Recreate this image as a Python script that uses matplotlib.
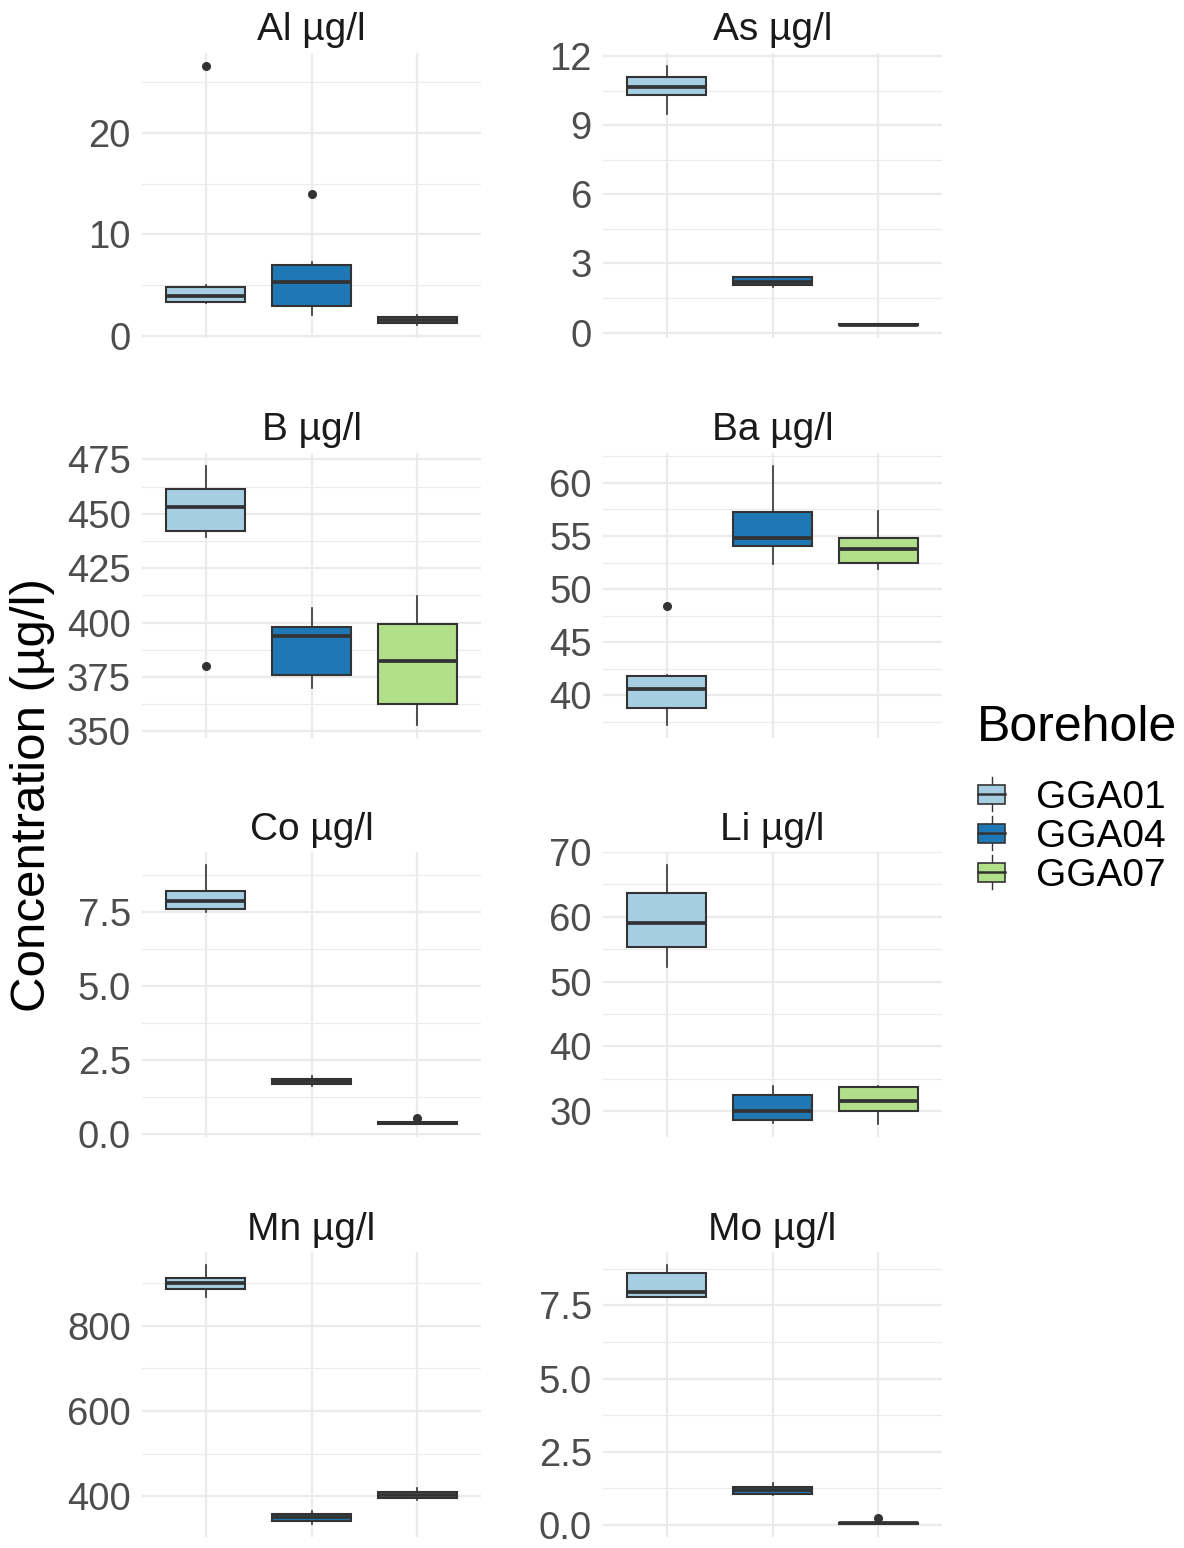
import matplotlib
matplotlib.use("Agg")
import matplotlib.pyplot as plt
from matplotlib.patches import Patch, Rectangle
from matplotlib.lines import Line2D
from matplotlib.legend_handler import HandlerBase

plt.rcParams['font.family'] = ['Liberation Sans', 'DejaVu Sans']

# boxplot stats per element, one row per borehole: [whisker low, q1, median, q3, whisker high]
boreholes = ["GGA01", "GGA04", "GGA07"]
colors = ["#A6CEE3", "#1F78B4", "#B2DF8A"]

panel_titles = ["Al µg/l", "As µg/l", "B µg/l", "Ba µg/l",
                "Co µg/l", "Li µg/l", "Mn µg/l", "Mo µg/l"]

al_stats = [[3.28, 3.38, 3.93, 4.86, 4.98], [2.03, 2.95, 5.35, 6.98, 7.3], [1.08, 1.25, 1.54, 1.87, 2.03]]
al_fliers = [[26.6], [13.96], []]
as_stats = [[9.48, 10.31, 10.64, 11.1, 11.57], [1.97, 2.05, 2.18, 2.40, 2.43], [0.33, 0.34, 0.35, 0.36, 0.37]]
as_fliers = [[], [], []]
b_stats = [[439.3, 441.9, 453.3, 461.5, 472.0], [370.0, 375.8, 394.0, 397.8, 406.7], [352.9, 362.4, 382.3, 399.3, 412.0]]
b_fliers = [[380.0], [], []]
ba_stats = [[37.2, 38.8, 40.6, 41.8, 41.9], [52.4, 54.1, 54.8, 57.3, 61.6], [51.9, 52.5, 53.8, 54.8, 57.4]]
ba_fliers = [[48.4], [], []]
co_stats = [[7.51, 7.6, 7.88, 8.22, 9.09], [1.61, 1.69, 1.78, 1.86, 1.95], [0.33, 0.34, 0.37, 0.40, 0.41]]
co_fliers = [[], [], [0.54]]
li_stats = [[52.2, 55.4, 59.0, 63.6, 68.0], [28.1, 28.7, 30.0, 32.5, 33.9], [28.0, 30.0, 31.6, 33.75, 33.9]]
li_fliers = [[], [], []]
mn_stats = [[868, 886, 899, 911, 942], [335, 343, 351, 358, 365], [392, 395, 403, 411, 419]]
mn_fliers = [[], [], []]
mo_stats = [[7.80, 7.80, 7.97, 8.6, 8.88], [1.02, 1.04, 1.18, 1.28, 1.44], [0.03, 0.04, 0.06, 0.08, 0.09]]
mo_fliers = [[], [], [0.25]]

all_stats = [al_stats, as_stats, b_stats, ba_stats, co_stats, li_stats, mn_stats, mo_stats]
all_fliers = [al_fliers, as_fliers, b_fliers, ba_fliers, co_fliers, li_fliers, mn_fliers, mo_fliers]

al_ticks = [0, 10, 20]
as_ticks = [0, 3, 6, 9, 12]
b_ticks = [350, 375, 400, 425, 450, 475]
ba_ticks = [40, 45, 50, 55, 60]
co_ticks = [0.0, 2.5, 5.0, 7.5]
li_ticks = [30, 40, 50, 60, 70]
mn_ticks = [400, 600, 800]
mo_ticks = [0.0, 2.5, 5.0, 7.5]
all_ticks = [al_ticks, as_ticks, b_ticks, ba_ticks, co_ticks, li_ticks, mn_ticks, mo_ticks]
tick_fmt = ["{:.0f}", "{:.0f}", "{:.0f}", "{:.0f}", "{:.1f}", "{:.0f}", "{:.0f}", "{:.1f}"]

W, H = 1184, 1548
fig = plt.figure(figsize=(W / 100, H / 100), dpi=100)

col_left = [142, 603]
panel_w = 339
row_top = [53, 453, 852, 1252]
panel_h = 285

grid_col = "#EBEBEB"
edge_col = "#333333"

for i in range(8):
	r, c = divmod(i, 2)
	ax = fig.add_axes([col_left[c] / W, 1 - (row_top[r] + panel_h) / H, panel_w / W, panel_h / H])
	stats = []
	for j in range(3):
		lo, q1, med, q3, hi = all_stats[i][j]
		stats.append(dict(whislo=lo, q1=q1, med=med, q3=q3, whishi=hi, fliers=all_fliers[i][j], label=boreholes[j]))
	bp = ax.bxp(stats, positions=[1, 2, 3], widths=0.75, patch_artist=True, showcaps=False,
				boxprops=dict(edgecolor=edge_col, linewidth=1.5),
				medianprops=dict(color=edge_col, linewidth=2.7, solid_capstyle='butt'),
				whiskerprops=dict(color=edge_col, linewidth=1.2),
				flierprops=dict(marker='o', markerfacecolor=edge_col, markeredgecolor=edge_col, markersize=5.5))
	for patch, col in zip(bp['boxes'], colors):
		patch.set_facecolor(col)

	ax.set_xlim(0.4, 3.6)
	ax.set_xticks([1, 2, 3])
	ax.set_xticklabels([])
	ticks = all_ticks[i]
	ax.set_yticks(ticks)
	ax.set_yticklabels([tick_fmt[i].format(t) for t in ticks])
	step = ticks[1] - ticks[0]
	ax.set_yticks([t + step / 2 for t in [ticks[0] - step] + ticks], minor=True)
	ax.margins(y=0.05)
	ax.autoscale_view()
	ax.grid(True, which='major', color=grid_col, linewidth=1.6)
	ax.grid(True, which='minor', axis='y', color=grid_col, linewidth=0.8)
	ax.set_axisbelow(True)
	ax.tick_params(axis='both', which='both', length=0)
	ax.tick_params(axis='y', labelsize=27.5, labelcolor="#4D4D4D", pad=8)
	for s in ax.spines.values():
		s.set_visible(False)
	ax.set_title(panel_titles[i], fontsize=28, color="#1A1A1A", pad=9)

fig.text(33 / W, 1 - 795 / H, "Concentration (µg/l)", rotation=90, ha='center', va='center',
		 fontsize=35.5, color="black")


class BoxKey(HandlerBase):
	def create_artists(self, legend, orig_handle, xdescent, ydescent, width, height, fontsize, trans):
		cx = width / 2 - xdescent
		cy = height / 2 - ydescent
		bw, bh = width, height * 0.75
		rect = Rectangle((cx - bw / 2, cy - bh / 2), bw, bh, facecolor=orig_handle.get_facecolor(),
						 edgecolor=edge_col, linewidth=1.2, transform=trans)
		med = Line2D([cx - bw / 2, cx + bw / 2], [cy, cy], color=edge_col, linewidth=1.8, transform=trans)
		up = Line2D([cx, cx], [cy + bh / 2, cy + height * 0.68], color=edge_col, linewidth=1.0, transform=trans)
		dn = Line2D([cx, cx], [cy - bh / 2, cy - height * 0.68], color=edge_col, linewidth=1.0, transform=trans)
		return [up, dn, rect, med]


fig.text(977 / W, 1 - 728 / H, "Borehole", ha='left', va='center', fontsize=36, color="black")

handles = [Patch(facecolor=col, label=lab) for col, lab in zip(colors, boreholes)]
leg = fig.legend(handles=handles, labels=boreholes, handler_map={Patch: BoxKey()},
				 loc='upper left', bbox_to_anchor=(978 / W, 1 - 780 / H), frameon=False,
				 fontsize=28, handlelength=0.7, handleheight=0.62, handletextpad=0.8,
				 labelspacing=0.075, borderaxespad=0, borderpad=0)

fig.savefig("out.png", dpi=100)
